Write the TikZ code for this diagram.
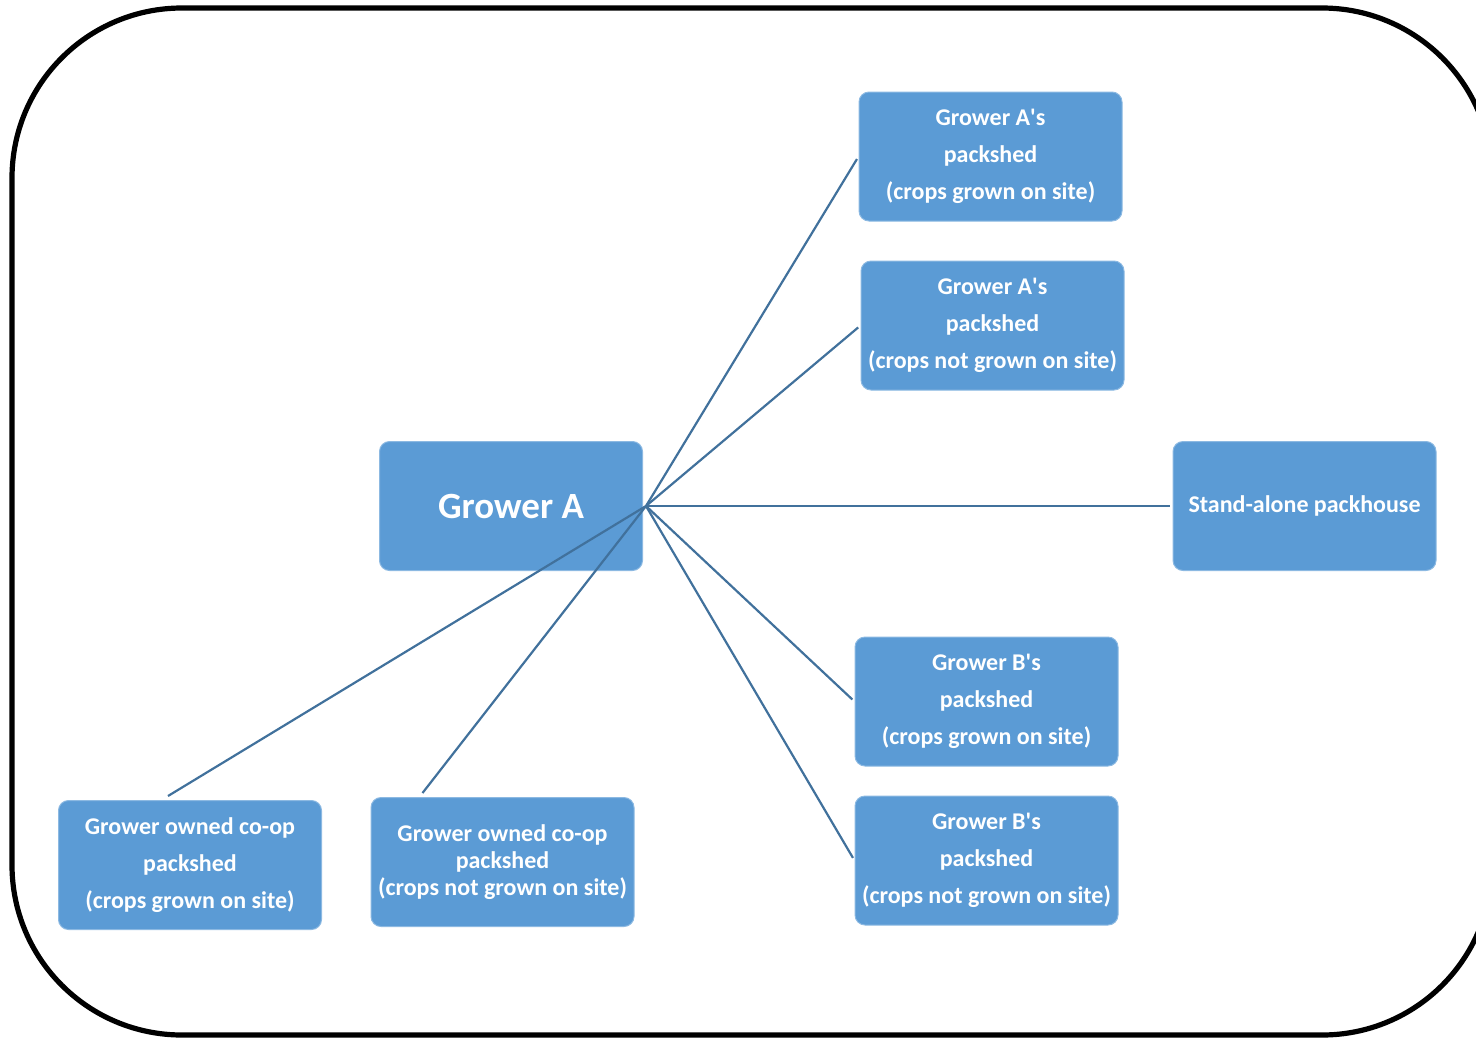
\documentclass[tikz,border=0pt]{standalone}
\usepackage{fontspec}
\setmainfont{Carlito}
\usepackage{tikz}
\definecolor{boxblue}{HTML}{5B9BD5}
\definecolor{linkblue}{HTML}{41719C}

\tikzset{
  box/.style={rectangle, rounded corners=5pt, fill=boxblue, draw=boxblue!70!white, line width=0.5pt,
    text=white, align=center, minimum width=131.5pt, minimum height=64.5pt, inner sep=0pt,
    font=\bfseries\fontsize{12}{18.5}\selectfont},
  link/.style={draw=linkblue, line width=1.1pt, shorten >=1.5pt}
}

\begin{document}
\begin{tikzpicture}[x=0.5pt, y=-0.5pt]
    \useasboundingbox (0,0) rectangle (1476,1039);
    \clip (0,0) rectangle (1476,1039);
    \draw[line width=2.6pt, rounded corners=85pt] (12,8) rectangle (1492,1035); % the frame
    \node[box, font=\bfseries\fontsize{18.5}{22}\selectfont] (ga) at (511,506) {Grower A};
    \node[box] (a1) at (990.5,156.5) {Grower A\textquotesingle s\\packshed\\(crops grown on site)};
    \node[box] (a2) at (992.5,325.5) {Grower A\textquotesingle s\\packshed\\(crops not grown on site)};
    \node[box] (sa) at (1304.5,506) {Stand-alone packhouse};
    \node[box] (b1) at (986.5,701.5) {Grower B\textquotesingle s\\packshed\\(crops grown on site)};
    \node[box] (b2) at (986.5,860.5) {Grower B\textquotesingle s\\packshed\\(crops not grown on site)};
    \node[box] (c1) at (190,865) {Grower owned co-op\\packshed\\(crops grown on site)};
    \node[box, font=\bfseries\fontsize{12}{13.3}\selectfont] (c2) at (502.5,862) {Grower owned co-op\\packshed\\(crops not grown on site)};
    \foreach \t in {a1,a2,sa,b1,b2}
    \draw[link] ([xshift=1.5pt]ga.east) -- (\t.west);
    \draw[link, shorten >=0pt] ([xshift=1.5pt]ga.east) -- ([xshift=-11pt,yshift=2pt]c1.north);
    \draw[link, shorten >=0pt] ([xshift=1.5pt]ga.east) -- ([xshift=-40pt,yshift=2pt]c2.north);
\end{tikzpicture}
\end{document}
